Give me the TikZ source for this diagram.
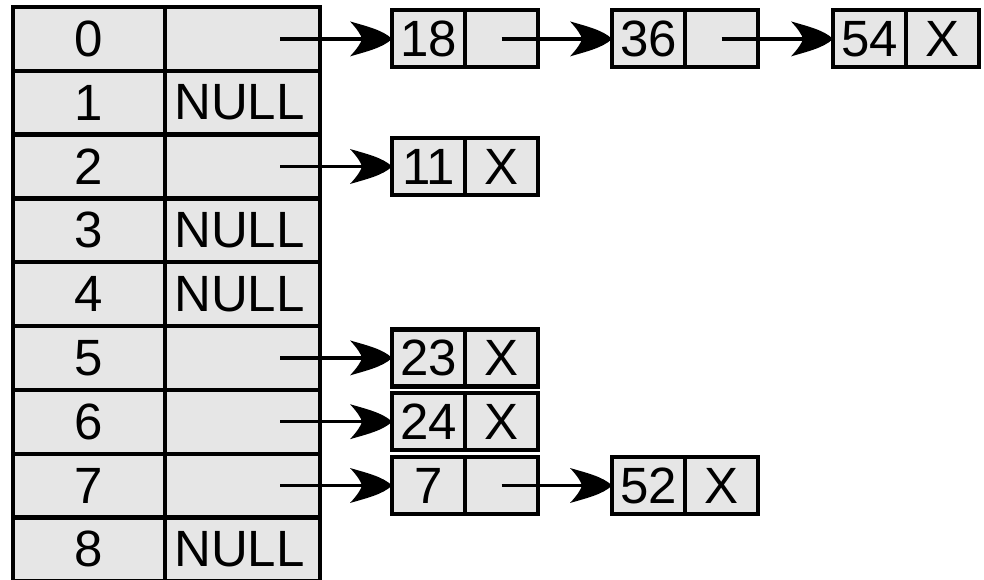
\documentclass[tikz,border=0pt]{standalone}
\usepackage{fontspec}
\setmainfont{Liberation Sans}
\usetikzlibrary{arrows.meta}
\definecolor{cellgray}{RGB}{230,230,230}
\pgfdeclarearrow{
  name = Swept,
  setup code = {
    \pgfarrowssettipend{0pt}
    \pgfarrowssetlineend{-24pt}
    \pgfarrowssetbackend{-42pt}
    \pgfarrowssetvisualbackend{-30pt}
    \pgfarrowsupperhullpoint{-42pt}{17.5pt}
    \pgfarrowsupperhullpoint{0pt}{0pt}
  },
  drawing code = {
    \pgfpathmoveto{\pgfqpoint{0pt}{0pt}}
    \pgfpathcurveto{\pgfqpoint{-9pt}{9pt}}{\pgfqpoint{-27pt}{13pt}}{\pgfqpoint{-42pt}{17.5pt}}
    \pgfpathcurveto{\pgfqpoint{-35pt}{10pt}}{\pgfqpoint{-31pt}{4pt}}{\pgfqpoint{-30pt}{0pt}}
    \pgfpathcurveto{\pgfqpoint{-31pt}{-4pt}}{\pgfqpoint{-35pt}{-10pt}}{\pgfqpoint{-42pt}{-17.5pt}}
    \pgfpathcurveto{\pgfqpoint{-27pt}{-13pt}}{\pgfqpoint{-9pt}{-9pt}}{\pgfqpoint{0pt}{0pt}}
    \pgfpathclose
    \pgfusepathqfill
  }
}
\tikzset{
  bigfont/.style={font=\fontsize{51}{51}\selectfont},
  cell/.style={draw=black, fill=cellgray, line width=4.2pt, minimum height=57pt,
    minimum width=73pt, inner sep=0pt, outer sep=0pt, bigfont},
  tcell/.style={draw=black, fill=cellgray, line width=4.2pt, minimum height=63.8pt,
    inner sep=0pt, outer sep=0pt, anchor=north west, bigfont},
  ptr/.style={line width=3.4pt, -{Swept}},
  txt/.style={inner sep=0pt, bigfont}
}
\begin{document}
\begin{tikzpicture}[x=1pt,y=-1pt]
\useasboundingbox[fill=white] (0,0) rectangle (984,580);
% hash table
\foreach \i in {0,...,8}{
  \node[tcell, minimum width=152pt] (k\i) at (13,{7+63.8*\i}) {\i};
  \node[tcell, minimum width=155pt] (v\i) at (165,{7+63.8*\i}) {};
}
\foreach \i in {1,3,4,8}{
  \node[txt, anchor=west] (null\i) at ([xshift=9pt]v\i.west) {NULL};
}
% linked nodes
% row 0
\node[cell] (n18) at (428.5,38.9) {18};
\node[cell] (n18p) at (501.5,38.9) {};
\node[cell] (n36) at (648.5,38.9) {36};
\node[cell] (n36p) at (721.5,38.9) {};
\node[cell] (n54) at (869.5,38.9) {54};
\node[cell] (n54p) at (942.5,38.9) {X};
% row 2
\node[cell] (n11) at (428.5,166.5) {11};
\node[cell] (n11p) at (501.5,166.5) {X};
% row 5
\node[cell] (n23) at (428.5,357.9) {23};
\node[cell] (n23p) at (501.5,357.9) {X};
% row 6
\node[cell] (n24) at (428.5,421.7) {24};
\node[cell] (n24p) at (501.5,421.7) {X};
% row 7
\node[cell] (n7) at (428.5,485.5) {7};
\node[cell] (n7p) at (501.5,485.5) {};
\node[cell] (n52) at (648.5,485.5) {52};
\node[cell] (n52p) at (721.5,485.5) {X};
% arrow starts in table
\coordinate (a0) at (280,38.9);
\coordinate (a2) at (280,166.5);
\coordinate (a5) at (280,357.9);
\coordinate (a6) at (280,421.7);
\coordinate (a7) at (280,485.5);
% arrows
\draw[ptr] (a0) -- (n18.west);
\draw[ptr] (n18p.center) -- (n36.west);
\draw[ptr] (n36p.center) -- (n54.west);
\draw[ptr] (a2) -- (n11.west);
\draw[ptr] (a5) -- (n23.west);
\draw[ptr] (a6) -- (n24.west);
\draw[ptr] (a7) -- (n7.west);
\draw[ptr] (n7p.center) -- (n52.west);
\end{tikzpicture}
\end{document}
